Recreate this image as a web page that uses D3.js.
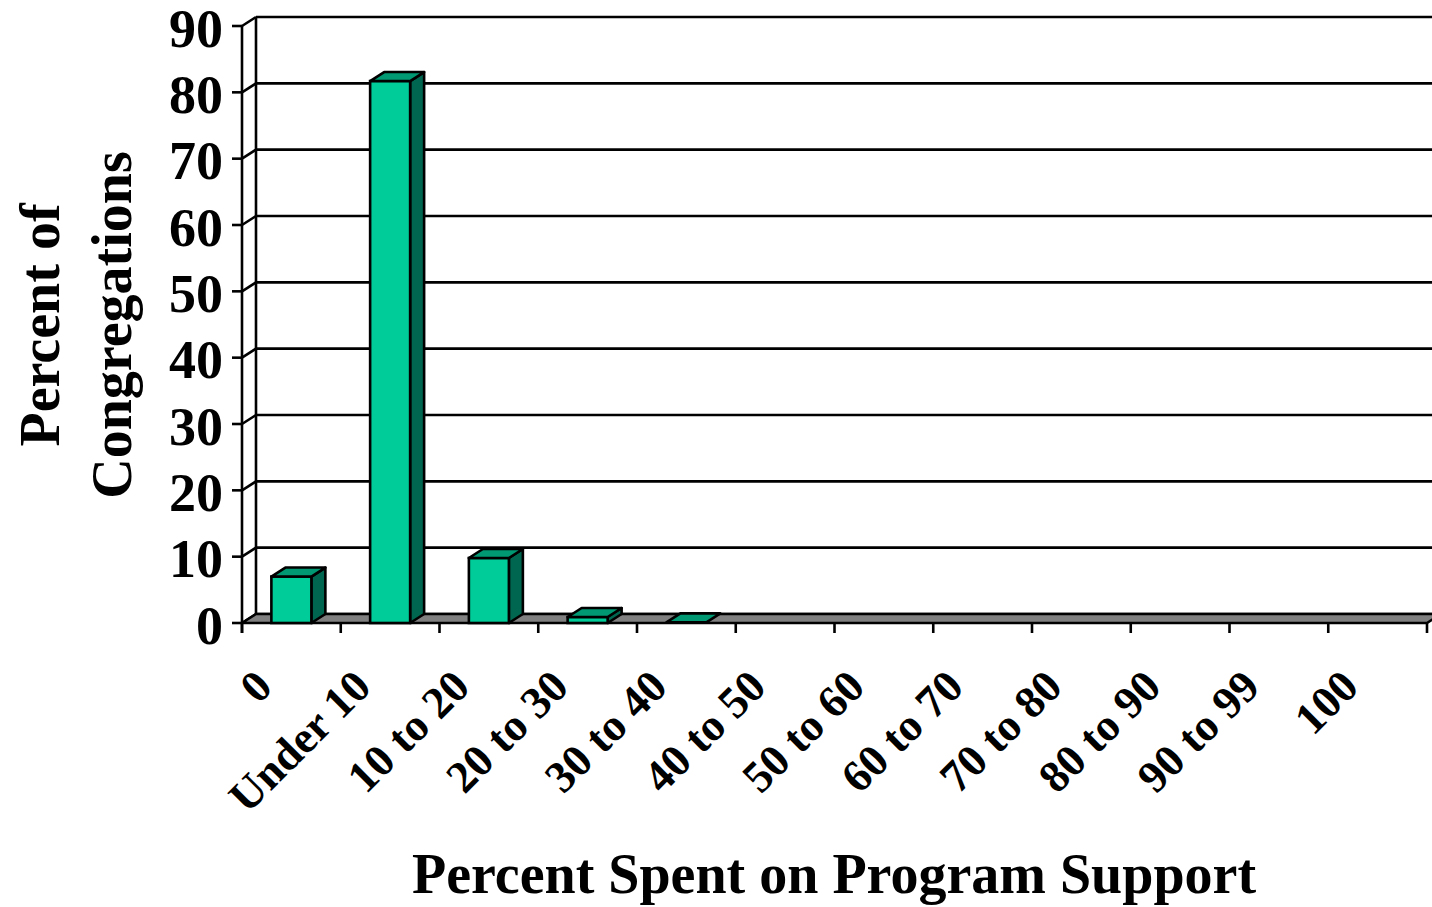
<!DOCTYPE html>
<html>
<head>
<meta charset="utf-8">
<script src="https://cdn.jsdelivr.net/npm/d3@7"></script>
<style>
  body { margin: 0; background: #fff; }
  text { font-family: "Liberation Serif", "Times New Roman", serif; font-weight: bold; fill: #000; }
</style>
</head>
<body>
<svg id="drawing_region"></svg>
<script>
// chart data
const categories = ['0', 'Under 10', '10 to 20', '20 to 30', '30 to 40', '40 to 50',
                    '50 to 60', '60 to 70', '70 to 80', '80 to 90', '90 to 99', '100'];
const values = [7, 81.7, 9.8, 0.9, 0.1, 0, 0, 0, 0, 0, 0, 0];
const yTicks = [0, 10, 20, 30, 40, 50, 60, 70, 80, 90];
const xTitle = 'Percent Spent on Program Support';
const yTitle = ['Percent of', 'Congregations'];

const W = 1432, H = 907;
const plotLeft = 242, plotRight = 1427, plotBase = 623, plotTop = 26;
const depth = {dx: 14, dy: -9};
const colors = {front: '#00cc99', top: '#009973', side: '#006650', floor: '#808080'};

const svg = d3.select('#drawing_region').attr('width', W).attr('height', H);

const x = d3.scaleBand().domain(categories).range([plotLeft, plotRight]).padding(0);
const y = d3.scaleLinear().domain([0, 90]).range([plotBase, plotTop]);
const barW = x.bandwidth() * 0.405;

const lw = 2.6;

// back wall gridlines
svg.append('g').selectAll('line')
    .data(yTicks)
    .join('line')
    .attr('x1', plotLeft + depth.dx).attr('x2', W + 20)
    .attr('y1', d => y(d) + depth.dy).attr('y2', d => y(d) + depth.dy)
    .attr('stroke', '#000').attr('stroke-width', lw);

// left side wall
const wall = svg.append('g');
wall.append('line')
    .attr('x1', plotLeft + depth.dx).attr('x2', plotLeft + depth.dx)
    .attr('y1', y(90) + depth.dy).attr('y2', y(0) + depth.dy)
    .attr('stroke', '#000').attr('stroke-width', lw);
wall.selectAll('.diag')
    .data(yTicks)
    .join('line')
    .attr('class', 'diag')
    .attr('x1', plotLeft).attr('x2', plotLeft + depth.dx)
    .attr('y1', d => y(d)).attr('y2', d => y(d) + depth.dy)
    .attr('stroke', '#000').attr('stroke-width', lw);

// floor
const floorPts = [[plotLeft, plotBase], [plotRight, plotBase],
                  [plotRight + depth.dx, plotBase + depth.dy], [plotLeft + depth.dx, plotBase + depth.dy]];
svg.append('polygon')
    .attr('points', floorPts.map(p => p.join(',')).join(' '))
    .attr('fill', colors.floor)
    .attr('stroke', '#000').attr('stroke-width', lw).attr('stroke-linejoin', 'round');

// bars
const bars = svg.append('g').selectAll('g')
    .data(categories.map((c, i) => ({c, v: values[i]})).filter(d => d.v > 0))
    .join('g');
bars.each(function(d) {
    const g = d3.select(this);
    const x0 = x(d.c) + (x.bandwidth() - barW) / 2, x1 = x0 + barW;
    const yt = y(d.v), yb = y(0);
    const pts = a => a.map(p => p.join(',')).join(' ');
    if (yb - yt > 2) {
        g.append('polygon')
            .attr('points', pts([[x1, yb], [x1 + depth.dx, yb + depth.dy], [x1 + depth.dx, yt + depth.dy], [x1, yt]]))
            .attr('fill', colors.side).attr('stroke', '#000').attr('stroke-width', lw).attr('stroke-linejoin', 'round');
        g.append('rect')
            .attr('x', x0).attr('y', yt).attr('width', barW).attr('height', yb - yt)
            .attr('fill', colors.front).attr('stroke', '#000').attr('stroke-width', lw);
    }
    g.append('polygon')
        .attr('points', pts([[x0, yt], [x1, yt], [x1 + depth.dx, yt + depth.dy], [x0 + depth.dx, yt + depth.dy]]))
        .attr('fill', colors.top).attr('stroke', '#000').attr('stroke-width', lw).attr('stroke-linejoin', 'round');
});

// front axis line
svg.append('line')
    .attr('x1', plotLeft).attr('x2', plotLeft)
    .attr('y1', y(90)).attr('y2', plotBase + 10)
    .attr('stroke', '#000').attr('stroke-width', lw);

// y ticks and labels
const yAxis = svg.append('g');
yAxis.selectAll('line')
    .data(yTicks)
    .join('line')
    .attr('x1', plotLeft - 10).attr('x2', plotLeft)
    .attr('y1', d => y(d)).attr('y2', d => y(d))
    .attr('stroke', '#000').attr('stroke-width', lw);
yAxis.selectAll('text')
    .data(yTicks)
    .join('text')
    .attr('x', plotLeft - 19)
    .attr('y', d => y(d))
    .attr('dy', '0.38em')
    .attr('text-anchor', 'end')
    .style('font-size', '54px')
    .text(d => d);

// x ticks and labels
const xEdges = categories.map(c => x(c)).concat([plotRight]);
svg.append('g').selectAll('line')
    .data(xEdges)
    .join('line')
    .attr('x1', d => d).attr('x2', d => d)
    .attr('y1', plotBase).attr('y2', plotBase + 10)
    .attr('stroke', '#000').attr('stroke-width', lw);
svg.append('g').selectAll('text')
    .data(categories)
    .join('text')
    .attr('text-anchor', 'end')
    .attr('transform', d => `translate(${x(d) + x.bandwidth() / 2 - 17}, 689) rotate(-45)`)
    .style('font-size', '45px')
    .text(d => d);

// titles
svg.append('text')
    .attr('x', 834).attr('y', 893)
    .attr('text-anchor', 'middle')
    .style('font-size', '56px')
    .text(xTitle);
svg.append('g').selectAll('text')
    .data(yTitle)
    .join('text')
    .attr('text-anchor', 'middle')
    .attr('transform', (d, i) => `translate(${i === 0 ? 59 : 131}, 325) rotate(-90)`)
    .style('font-size', '56px')
    .text(d => d);
</script>
</body>
</html>
